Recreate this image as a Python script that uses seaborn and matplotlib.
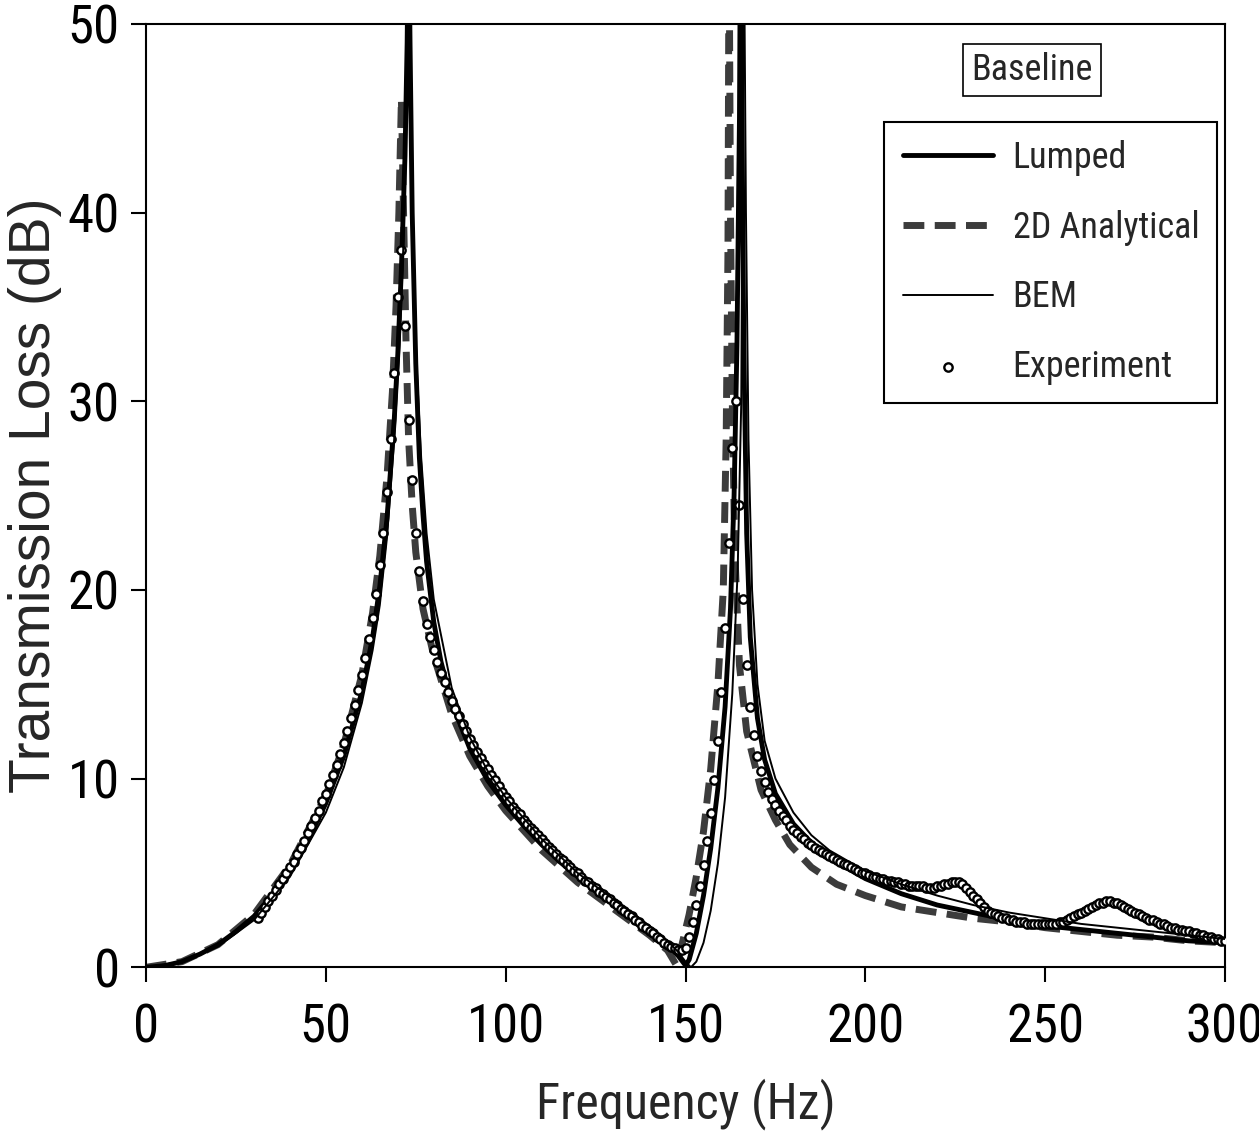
import numpy as np
import pandas as pd
import seaborn as sns
import matplotlib.pyplot as plt

# Lumped model (thick solid)
lumped_f = [0, 5, 10, 15, 20, 25, 30, 35, 40, 45, 50, 55, 60, 63, 65, 67, 69, 70, 71, 72,
            72.6, 73, 73.4, 74, 75, 76, 77, 78, 80, 82, 85, 90, 95, 100, 105, 110, 115, 120,
            125, 130, 135, 140, 145, 148, 150, 151, 153, 155, 157, 159, 161, 162.5, 163.5,
            164.3, 165, 165.3, 165.7, 166.2, 167, 168, 170, 172, 175, 180, 185, 190, 200,
            210, 220, 230, 240, 250, 260, 270, 280, 290, 300]
lumped_tl = [0.0, 0.08, 0.3, 0.7, 1.2, 1.9, 2.7, 3.8, 5.1, 6.7, 8.7, 11.2, 14.6, 17.5, 20.2,
             23.8, 29.0, 32.5, 37.0, 43.0, 49.0, 56.0, 49.0, 40.0, 32.0, 27.0, 24.0, 21.5,
             18.3, 16.2, 14.0, 11.6, 9.9, 8.6, 7.5, 6.5, 5.6, 4.8, 4.1, 3.4, 2.7, 2.0, 1.2,
             0.6, 0.1, 0.4, 1.8, 3.8, 6.3, 9.5, 13.8, 19.0, 25.0, 33.0, 45.0, 56.0, 45.0,
             33.0, 23.0, 17.5, 13.2, 11.0, 9.2, 7.6, 6.6, 5.8, 4.7, 3.9, 3.3, 2.9, 2.5, 2.2,
             2.0, 1.8, 1.6, 1.4, 1.3]

# 2D analytical model (thick dashed)
analytic_f = [0, 10, 20, 30, 40, 50, 55, 60, 63, 65, 67, 68.5, 69.5, 70.3, 71, 71.6, 72.3,
              73, 74, 75, 77, 80, 85, 90, 95, 100, 110, 120, 130, 140, 145, 147.5, 149, 151,
              153, 155, 157, 159, 160.5, 161.3, 161.8, 162.1, 162.5, 163, 163.7, 165, 167,
              171, 175, 179, 185, 192, 200, 210, 220, 230, 240, 250, 260, 270, 280, 290, 300]
analytic_tl = [0.0, 0.3, 1.2, 2.8, 5.4, 9.1, 11.8, 15.5, 18.8, 21.8, 26.0, 30.5, 35.0, 40.0,
               46.0, 40.0, 33.0, 28.0, 24.5, 22.0, 19.0, 16.5, 13.4, 11.2, 9.6, 8.3, 6.2, 4.5,
               3.1, 1.7, 0.9, 0.1, 1.2, 2.8, 4.8, 7.2, 10.5, 15.0, 20.0, 28.0, 38.0, 55.0,
               40.0, 30.0, 22.0, 16.0, 12.5, 9.4, 7.8, 6.5, 5.3, 4.4, 3.8, 3.2, 2.9, 2.6, 2.4,
               2.1, 1.9, 1.7, 1.6, 1.4, 1.3]

# BEM (thin solid)
bem_f = [0, 10, 20, 30, 40, 50, 55, 60, 63, 65, 67, 69, 70.5, 71.5, 72.3, 73, 73.6, 74.3,
         75.2, 76.5, 78, 80, 85, 90, 95, 100, 110, 120, 130, 140, 145, 148, 150, 151.5, 153,
         155, 157, 159, 161, 163, 164.5, 165.5, 166.2, 166.8, 167.5, 168.5, 170, 172, 175,
         180, 185, 190, 200, 210, 220, 230, 240, 250, 260, 270, 280, 290, 300]
bem_tl = [0.0, 0.3, 1.1, 2.5, 4.8, 8.2, 10.6, 14.0, 16.8, 19.2, 22.8, 28.0, 33.0, 38.0,
          44.0, 56.0, 46.0, 38.0, 32.0, 27.0, 23.0, 19.5, 14.8, 12.2, 10.4, 9.0, 6.8, 5.0,
          3.6, 2.2, 1.4, 0.8, 0.3, 0.0, 0.3, 1.3, 3.0, 5.5, 9.0, 14.5, 21.0, 30.0, 56.0,
          40.0, 28.0, 20.0, 15.0, 12.0, 10.0, 8.2, 7.0, 6.2, 5.1, 4.4, 3.8, 3.3, 2.9, 2.6,
          2.3, 2.1, 1.9, 1.7, 1.5]

# Experiment, 1 Hz steps from 31 to 300 Hz
exp_f = list(range(31, 301))
exp_tl = [
    2.6, 2.9, 3.2, 3.5, 3.8, 4.1, 4.4, 4.7, 5.0, 5.3,
    5.6, 6.0, 6.3, 6.7, 7.1, 7.5, 7.9, 8.3, 8.8, 9.2,
    9.7, 10.2, 10.7, 11.3, 11.9, 12.5, 13.2, 13.9, 14.7, 15.5,
    16.4, 17.4, 18.5, 19.8, 21.3, 23.0, 25.2, 28.0, 31.5, 35.5,
    38.0, 34.0, 29.0, 25.8, 23.0, 21.0, 19.4, 18.2, 17.5, 16.8,
    16.2, 15.6, 15.1, 14.6, 14.1, 13.7, 13.3, 12.9, 12.5, 12.1,
    11.8, 11.4, 11.1, 10.8, 10.5, 10.2, 9.9, 9.6, 9.3, 9.0,
    8.8, 8.5, 8.3, 8.1, 7.8, 7.6, 7.4, 7.2, 7.0, 6.8,
    6.6, 6.4, 6.2, 6.0, 5.8, 5.7, 5.5, 5.3, 5.1, 5.0,
    4.8, 4.6, 4.5, 4.3, 4.2, 4.0, 3.9, 3.7, 3.6, 3.4,
    3.3, 3.1, 3.0, 2.8, 2.7, 2.5, 2.4, 2.2, 2.1, 1.9,
    1.8, 1.6, 1.5, 1.3, 1.2, 1.1, 1.0, 0.9, 0.9, 1.0,
    1.6, 2.4, 3.3, 4.3, 5.4, 6.7, 8.2, 9.9, 12.0, 14.6,
    18.0, 22.5, 27.5, 30.0, 24.5, 19.5, 16.0, 13.8, 12.3, 11.2,
    10.4, 9.8, 9.3, 8.9, 8.6, 8.3, 8.0, 7.8, 7.5, 7.3,
    7.1, 6.9, 6.8, 6.6, 6.5, 6.3, 6.2, 6.1, 6.0, 5.9,
    5.8, 5.7, 5.6, 5.5, 5.4, 5.3, 5.2, 5.1, 5.0, 5.0,
    4.9, 4.8, 4.8, 4.7, 4.7, 4.6, 4.6, 4.5, 4.5, 4.4,
    4.4, 4.3, 4.3, 4.3, 4.3, 4.3, 4.2, 4.2, 4.2, 4.3,
    4.3, 4.4, 4.4, 4.5, 4.5, 4.5, 4.4, 4.2, 4.0, 3.8,
    3.6, 3.4, 3.2, 3.0, 2.9, 2.8, 2.7, 2.6, 2.6, 2.5,
    2.5, 2.4, 2.4, 2.4, 2.3, 2.3, 2.3, 2.3, 2.3, 2.3,
    2.3, 2.3, 2.3, 2.4, 2.4, 2.5, 2.6, 2.7, 2.8, 2.9,
    3.0, 3.1, 3.2, 3.3, 3.4, 3.4, 3.5, 3.5, 3.4, 3.4,
    3.3, 3.2, 3.1, 3.0, 2.9, 2.8, 2.7, 2.6, 2.5, 2.5,
    2.4, 2.3, 2.3, 2.2, 2.1, 2.1, 2.0, 2.0, 1.9, 1.9,
    1.8, 1.8, 1.7, 1.7, 1.6, 1.6, 1.5, 1.5, 1.4, 1.4,
]

x_ticks = [0, 50, 100, 150, 200, 250, 300]
y_ticks = [0, 10, 20, 30, 40, 50]

sns.set_style("ticks")
plt.rcParams['font.family'] = ['Roboto Condensed', 'Liberation Sans', 'DejaVu Sans']

fig = plt.figure(figsize=(12.59, 11.34), dpi=100)
ax = fig.add_axes([0.116, 0.147, 0.857, 0.832])

sns.lineplot(x=analytic_f, y=analytic_tl, ax=ax, color='#3c3c3c', linewidth=5,
             linestyle=(0, (3, 1.5)), errorbar=None, label='2D Analytical', zorder=2)
sns.lineplot(x=lumped_f, y=lumped_tl, ax=ax, color='black', linewidth=3.5,
             errorbar=None, label='Lumped', zorder=3)
sns.scatterplot(x=exp_f, y=exp_tl, ax=ax, marker='o', s=36, facecolor='white',
                edgecolor='black', linewidth=1.7, label='Experiment', zorder=4)
sns.lineplot(x=bem_f, y=bem_tl, ax=ax, color='black', linewidth=1.4,
             errorbar=None, label='BEM', zorder=5)

ax.set_xlim(0, 300)
ax.set_ylim(0, 50)
ax.set_xticks(x_ticks)
ax.set_yticks(y_ticks)
ax.tick_params(axis='both', direction='out', length=11, width=1.5, labelsize=38,
               colors='black', top=False, right=False)
ax.tick_params(axis='x', pad=14)
ax.tick_params(axis='y', pad=8)

for spine in ['top', 'bottom', 'left', 'right']:
    ax.spines[spine].set_visible(True)
    ax.spines[spine].set_color('black')
    ax.spines[spine].set_linewidth(1.5)

ax.set_xlabel("Frequency (Hz)", fontsize=36, labelpad=18)
ax.set_ylabel("Transmission Loss (dB)", fontsize=41, labelpad=4,
              family=['Liberation Sans', 'DejaVu Sans'])

# Legend in the original order
handles, labels = ax.get_legend_handles_labels()
order = ['Lumped', '2D Analytical', 'BEM', 'Experiment']
hmap = dict(zip(labels, handles))
leg = ax.legend([hmap[k] for k in order], order, loc='upper right',
                bbox_to_anchor=(0.993, 0.896), borderaxespad=0, fontsize=26,
                frameon=True, fancybox=False, framealpha=1, edgecolor='black',
                handlelength=2.5, handletextpad=0.55, labelspacing=0.93,
                borderpad=0.5, scatterpoints=1)
leg.get_frame().set_linewidth(1.5)

ax.text(0.821, 0.951, "Baseline", transform=ax.transAxes, fontsize=26,
        ha='center', va='center',
        bbox=dict(boxstyle='square,pad=0.22', facecolor='white', edgecolor='black', linewidth=1.2))

plt.savefig("out.png", dpi=100)
